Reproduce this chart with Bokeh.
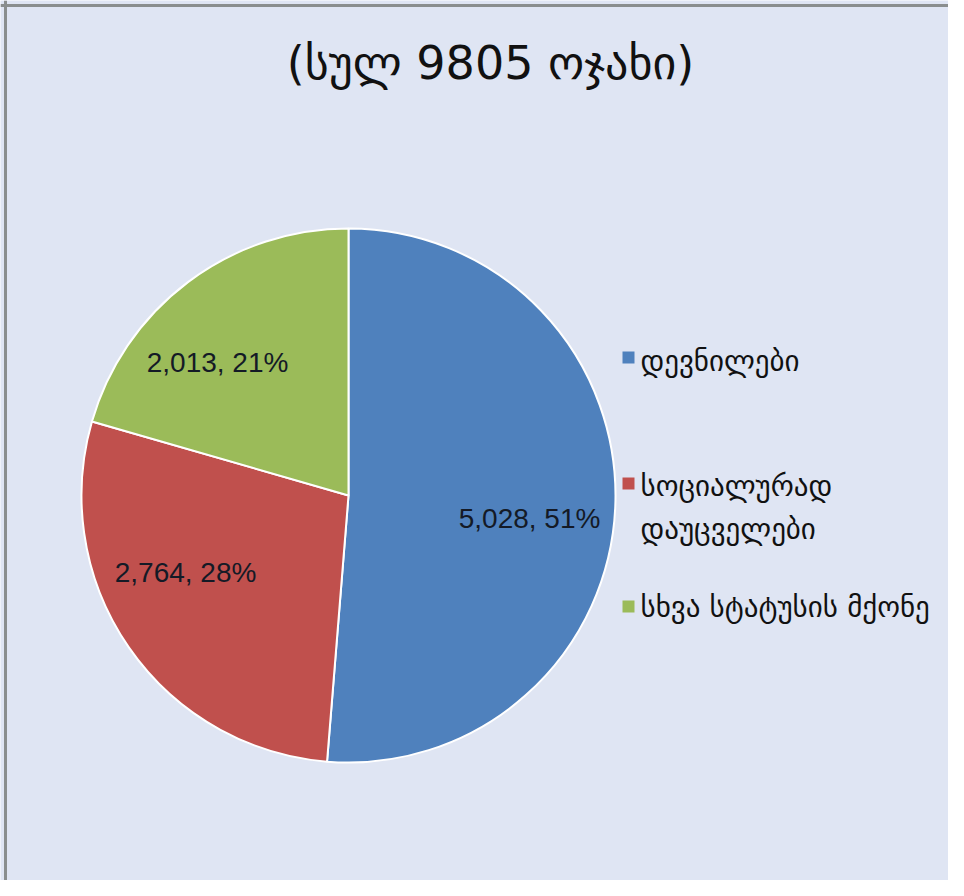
import math
from bokeh.plotting import figure
from bokeh.models import ColumnDataSource, Range1d
from bokeh.core.properties import value
from bokeh.embed import file_html
from bokeh.resources import INLINE

title_text = "(სულ 9805 ოჯახი)"
categories = ["დევნილები", "სოციალურად", "დაუცველები", "სხვა სტატუსის მქონე"]
values = [5028, 2764, 2013]
percents = [51, 28, 21]
colors = ["#4f81bd", "#c0504d", "#9bbb59"]

W, H = 948, 880
BG = "#dfe5f3"
p = figure(width=W, height=H, output_backend="svg", toolbar_location=None,
           x_range=Range1d(0, W), y_range=Range1d(0, H), min_border=0,
           background_fill_color=BG, border_fill_color=BG, outline_line_color=None)
p.axis.visible = False
p.grid.visible = False

def Y(t):
    return H - t

# frame borders (top and left, as in the reference)
p.segment(x0=[0, 5], y0=[Y(5), Y(0)], x1=[W, 5], y1=[Y(5), 0], line_color="#8a8e8e", line_width=3)

cx, cy, r = 348, Y(495), 267
total = sum(values)
label_r = 0.66 * r
nudges = [(5, -16), (-18, 23), (-25, -8)]
starts, ends, lx, ly, labels = [], [], [], [], []
cum = 0.0
for v, pc, (nx, ny) in zip(values, percents, nudges):
    a0 = math.pi / 2 - 2 * math.pi * cum / total
    cum += v
    a1 = math.pi / 2 - 2 * math.pi * cum / total
    starts.append(a0)
    ends.append(a1)
    mid = (a0 + a1) / 2
    lx.append(cx + label_r * math.cos(mid) + nx)
    ly.append(cy + label_r * math.sin(mid) + ny)
    labels.append(f"{v:,}, {pc}%")

src = ColumnDataSource(dict(start=starts, end=ends, color=colors, lx=lx, ly=ly, lab=labels))
p.wedge(x=cx, y=cy, radius=r, start_angle="start", end_angle="end", direction="clock",
        fill_color="color", line_color="white", line_width=2, source=src)
p.text(x="lx", y="ly", text="lab", source=src, text_align="center", text_baseline="middle",
       text_font=value("Liberation Sans"), text_font_size="28px", text_color="#141a26")

p.text(x=[490], y=[Y(62)], text=[title_text], text_align="center", text_baseline="middle",
       text_font=value("DejaVu Sans"), text_font_size="46px", text_color="#111111")

# legend
sq_y = [Y(357), Y(483), Y(606)]
p.rect(x=[628] * 3, y=sq_y, width=12, height=12, fill_color=colors, line_color=None)
txt_y = [Y(360), Y(485), Y(528), Y(606)]
p.text(x=[640] * 4, y=txt_y, text=categories, text_align="left", text_baseline="middle",
       text_font=value("DejaVu Sans"), text_font_size="29px", text_color="#111111")

open("out.html", "w").write(file_html(p, INLINE))
